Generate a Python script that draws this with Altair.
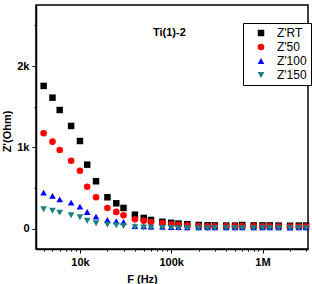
import altair as alt
import pandas as pd

freq = [4e3, 5e3, 6e3, 8e3, 1e4, 1.2e4, 1.5e4, 2e4, 2.5e4, 3e4, 4e4, 5e4, 6e4, 8e4,
        1e5, 1.2e5, 1.5e5, 2e5, 2.5e5, 3e5, 4e5, 5e5, 6e5, 8e5,
        1e6, 1.2e6, 1.5e6, 2e6, 2.5e6, 3e6]

z_rt = [1755, 1611, 1459, 1263, 1078, 787, 583, 386, 312, 255, 172, 132, 107, 85,
        72, 62, 55, 45, 42, 40, 38, 38, 45, 40, 40, 40, 38, 36, 38, 38]
z_50 = [1173, 1070, 968, 836, 713, 516, 386, 255, 206, 165, 116, 98, 82, 70,
        55, 48, 40, 32, 30, 28, 28, 28, 32, 28, 28, 28, 27, 26, 27, 27]
z_100 = [443, 402, 361, 320, 271, 205, 148, 107, 91, 82, 33, 29, 26, 22,
         20, 18, 17, 16, 15, 15, 15, 15, 17, 15, 15, 15, 15, 14, 15, 15]
z_150 = [239, 221, 197, 165, 140, 98, 66, 49, 42, 33, 17, 14, 12, 10,
         8, 7, 6, 6, 5, 5, 5, 5, 6, 5, 5, 5, 5, 5, 5, 5]

series_names = ["Z'RT", "Z'50", "Z'100", "Z'150"]
series_vals = [z_rt, z_50, z_100, z_150]
colors = ["#000000", "#ff0000", "#0000ff", "#1a8080"]
shapes = ["square", "circle", "triangle-up", "triangle-down"]
marker_sizes = [42, 46, 58, 58]

x_ticks = [4e3, 5e3, 6e3, 7e3, 8e3, 9e3, 1e4, 2e4, 3e4, 4e4, 5e4, 6e4, 7e4, 8e4, 9e4,
           1e5, 2e5, 3e5, 4e5, 5e5, 6e5, 7e5, 8e5, 9e5, 1e6, 2e6, 3e6]
y_ticks = [0, 500, 1000, 1500, 2000, 2500]

rows = []
for i, (name, vals) in enumerate(zip(series_names, series_vals)):
    for f, v in zip(freq, vals):
        rows.append({"F": f, "Z": v, "series": name, "idx": i})
df = pd.DataFrame(rows)

FONT = "Liberation Sans"

x_axis = alt.Axis(
    values=x_ticks,
    labelExpr="datum.value == 10000 ? '10k' : datum.value == 100000 ? '100k' : datum.value == 1000000 ? '1M' : ''",
    tickSize={"condition": {"test": "datum.value == 10000 || datum.value == 100000 || datum.value == 1000000", "value": 4}, "value": 2},
    labelOverlap=False,
    labelFlush=False,
    grid=False,
    title="F (Hz)",
    titleX=106,
    titleY=33,
    titleBaseline="alphabetic",
    labelPadding=3,
)
y_axis = alt.Axis(
    values=y_ticks,
    labelExpr="datum.value == 0 ? '0' : datum.value == 1000 ? '1k' : datum.value == 2000 ? '2k' : ''",
    tickSize={"condition": {"test": "datum.value % 1000 == 0", "value": 4}, "value": 2},
    labelOverlap=False,
    grid=False,
    title="Z'(Ohm)",
    titleX=-29,
    titleY=126,
    titleAngle=-90,
    titleAlign="center",
    titleBaseline="middle",
    labelPadding=3,
)

legend_kw = dict(title=None, orient="none", legendX=207, legendY=18,
                 strokeColor="black", fillColor="white", padding=4,
                 labelFont=FONT, labelFontSize=12, labelOffset=10,
                 symbolOffset=8, symbolSize=44, rowPadding=2,
                 symbolStrokeWidth=0)

points = alt.Chart(df).mark_point(filled=True, opacity=1, strokeWidth=0).encode(
    x=alt.X("F:Q", scale=alt.Scale(type="log", domain=[3300, 3150000]), axis=x_axis),
    y=alt.Y("Z:Q", scale=alt.Scale(domain=[-250, 2750], nice=False, zero=False), axis=y_axis),
    color=alt.Color("series:N", scale=alt.Scale(domain=series_names, range=colors),
                    legend=alt.Legend(**legend_kw)),
    shape=alt.Shape("series:N", scale=alt.Scale(domain=series_names, range=shapes),
                    legend=alt.Legend(**legend_kw)),
    size=alt.Size("series:N", scale=alt.Scale(domain=series_names, range=marker_sizes),
                  legend=None),
    order=alt.Order("idx:Q"),
)

label = alt.Chart(pd.DataFrame({"t": ["Ti(1)-2"]})).mark_text(
    align="left", baseline="middle", font=FONT, fontSize=11, fontWeight="bold", color="black"
).encode(x=alt.value(117), y=alt.value(28), text="t:N")

chart = alt.layer(points, label).properties(
    width=272, height=244,
    padding={"left": 36, "top": 5, "right": 4, "bottom": 35},
    autosize=alt.AutoSizeParams(type="none"),
    background="white",
).configure_view(
    stroke="black", strokeWidth=1.5
).configure_axis(
    domainColor="black", domainWidth=1.5, tickColor="black", tickWidth=1,
    labelFont=FONT, labelFontSize=11, labelFontWeight="bold", labelColor="black",
    titleFont=FONT, titleFontSize=11, titleFontWeight="bold", titleColor="black",
)

chart.save("out.html", embed_options={"renderer": "svg", "actions": False})
